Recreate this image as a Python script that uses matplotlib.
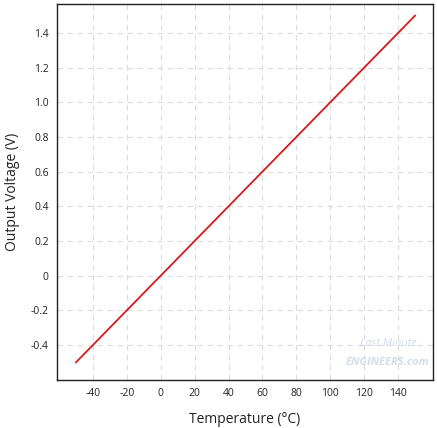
import matplotlib
matplotlib.use("Agg")
import matplotlib.pyplot as plt

plt.rcParams['font.family'] = ['Open Sans', 'DejaVu Sans']
plt.rcParams['axes.unicode_minus'] = False

# data: TMP36-style linear output
temps = [-50, 150]
volts = [-0.5, 1.5]
xticks = [-40, -20, 0, 20, 40, 60, 80, 100, 120, 140]
yticks = [-0.4, -0.2, 0, 0.2, 0.4, 0.6, 0.8, 1.0, 1.2, 1.4]
ylabels = ["-0.4", "-0.2", "0", "0.2", "0.4", "0.6", "0.8", "1.0", "1.2", "1.4"]

fig = plt.figure(figsize=(4.37, 4.28), dpi=100)
ax = fig.add_axes([57/437, 48/428, 376/437, 376/428])

ax.plot(temps, volts, color="#d7191c", lw=1.3, zorder=3)

ax.set_xlim(-61.2, 160.6)
ax.set_ylim(-0.602, 1.567)
ax.set_xticks(xticks)
ax.set_xticklabels([str(t) for t in xticks])
ax.set_yticks(yticks)
ax.set_yticklabels(ylabels)
ax.grid(True, color="#dcdcdc", ls=(0, (5, 4)), lw=0.8)
ax.tick_params(length=0, labelsize=7.5, colors="#222222", pad=6)
for s in ax.spines.values():
    s.set_color("#222222")
    s.set_linewidth(1.0)

ax.set_xlabel("Temperature (°C)", fontsize=10, color="#222222", labelpad=9)
ax.set_ylabel("Output Voltage (V)", fontsize=10, color="#222222", labelpad=8)

# watermark
ax.text(0.88, 0.09, "Last Minute", transform=ax.transAxes, fontsize=8,
        color="#c9d4e6", ha="center", style="italic", alpha=0.8)
ax.text(0.88, 0.04, "ENGINEERS.com", transform=ax.transAxes, fontsize=8,
        color="#c9d4e6", ha="center", weight="bold", style="italic", alpha=0.8)

fig.savefig("out.png", dpi=100)
